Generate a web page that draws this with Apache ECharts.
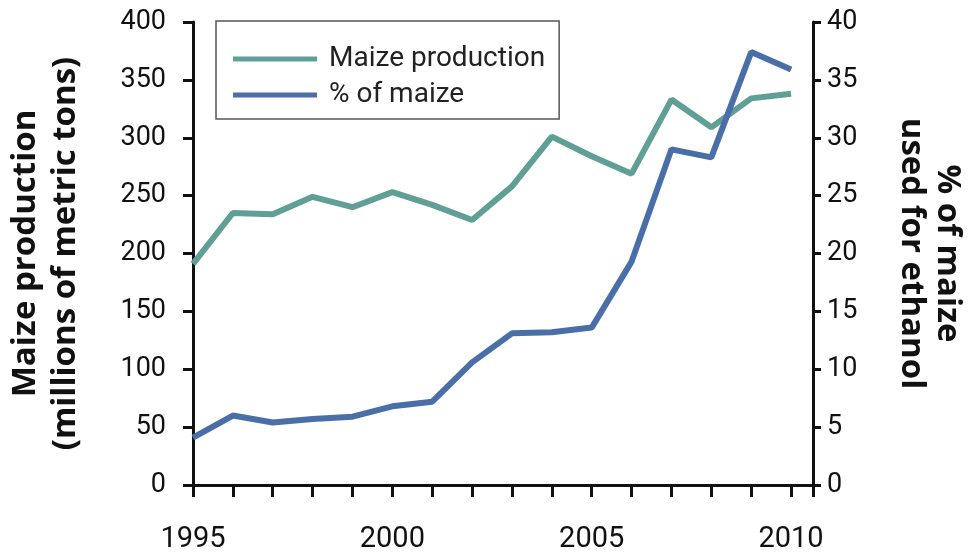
<!DOCTYPE html>
<html>
<head>
<meta charset="utf-8">
<script src="https://cdn.jsdelivr.net/npm/echarts@6/dist/echarts.min.js"></script>
<style>
  html, body { margin: 0; padding: 0; background: #fff; }
  #chart { width: 973px; height: 555px; }
</style>
</head>
<body>
<div id="chart"></div>
<script>
// years on the x axis
let years = [1995, 1996, 1997, 1998, 1999, 2000, 2001, 2002, 2003, 2004, 2005, 2006, 2007, 2008, 2009, 2010];
// maize production, millions of metric tons (left axis)
let maizeProduction = [191, 235, 234, 249, 240, 253, 242, 229, 258, 301, 284, 269, 333, 309, 334, 338];
// % of maize used for ethanol (right axis)
let pctEthanol = [4.1, 6.0, 5.4, 5.7, 5.9, 6.8, 7.2, 10.6, 13.1, 13.2, 13.6, 19.3, 29.0, 28.3, 37.4, 35.9];
// labelled years on the x axis
let yearLabels = [1995, 2000, 2005, 2010];

let labelFont = "Roboto, 'Open Sans', sans-serif";
let nameFont = "'Open Sans', 'Noto Sans', sans-serif";
let axisLine = { show: true, lineStyle: { color: '#111', width: 3 } };

let chart = echarts.init(document.getElementById('chart'));
chart.setOption({
  animation: false,
  backgroundColor: '#fff',
  grid: { left: 193, right: 160, top: 22, bottom: 70, outerBoundsMode: 'none', containLabel: false },
  legend: {
    orient: 'vertical',
    left: 216,
    top: 21,
    padding: [22, 14, 8, 17],
    itemGap: 4,
    itemWidth: 84,
    itemHeight: 5,
    icon: 'rect',
    borderColor: '#555',
    borderWidth: 1.5,
    textStyle: { fontFamily: labelFont, fontSize: 28, lineHeight: 32, color: '#222', padding: [0, 0, 0, 7] },
    data: ['Maize production', '% of maize']
  },
  xAxis: {
    type: 'value',
    min: 1995,
    max: 2010.55,
    interval: 1,
    axisLine: axisLine,
    axisTick: { show: true, length: 12, lineStyle: { color: '#111', width: 3 } },
    splitLine: { show: false },
    axisLabel: {
      margin: 40,
      fontFamily: labelFont,
      fontSize: 29,
      color: '#111',
      formatter: function (v) { return yearLabels.indexOf(v) >= 0 ? String(v) : ''; }
    }
  },
  yAxis: [
    {
      type: 'value',
      min: 0,
      max: 400,
      interval: 50,
      position: 'left',
      axisLine: axisLine,
      axisTick: { show: true, length: 10, lineStyle: { color: '#111', width: 3 } },
      splitLine: { show: false },
      axisLabel: { margin: 27, fontFamily: labelFont, fontSize: 27, color: '#111' },
      name: 'Maize production\n(millions of metric tons)',
      nameLocation: 'middle',
      nameRotate: 90,
      nameGap: 107,
      nameTextStyle: { fontFamily: nameFont, fontSize: 33, fontWeight: 'bold', color: '#111', lineHeight: 40 }
    },
    {
      type: 'value',
      min: 0,
      max: 40,
      interval: 5,
      position: 'right',
      axisLine: axisLine,
      axisTick: { show: true, length: 8, lineStyle: { color: '#111', width: 3 } },
      splitLine: { show: false },
      axisLabel: { margin: 14, fontFamily: labelFont, fontSize: 27, color: '#111' },
      name: '% of maize\nused for ethanol',
      nameLocation: 'middle',
      nameRotate: -90,
      nameGap: 80,
      nameTextStyle: { fontFamily: nameFont, fontSize: 33, fontWeight: 'bold', color: '#111', lineHeight: 36 }
    }
  ],
  series: [
    {
      name: 'Maize production',
      type: 'line',
      yAxisIndex: 0,
      symbol: 'none',
      lineStyle: { color: '#5f9f95', width: 6 },
      itemStyle: { color: '#5f9f95' },
      data: years.map(function (y, i) { return [y, maizeProduction[i]]; })
    },
    {
      name: '% of maize',
      type: 'line',
      yAxisIndex: 1,
      symbol: 'none',
      lineStyle: { color: '#4a6fa8', width: 6 },
      itemStyle: { color: '#4a6fa8' },
      data: years.map(function (y, i) { return [y, pctEthanol[i]]; })
    }
  ]
});
</script>
</body>
</html>
